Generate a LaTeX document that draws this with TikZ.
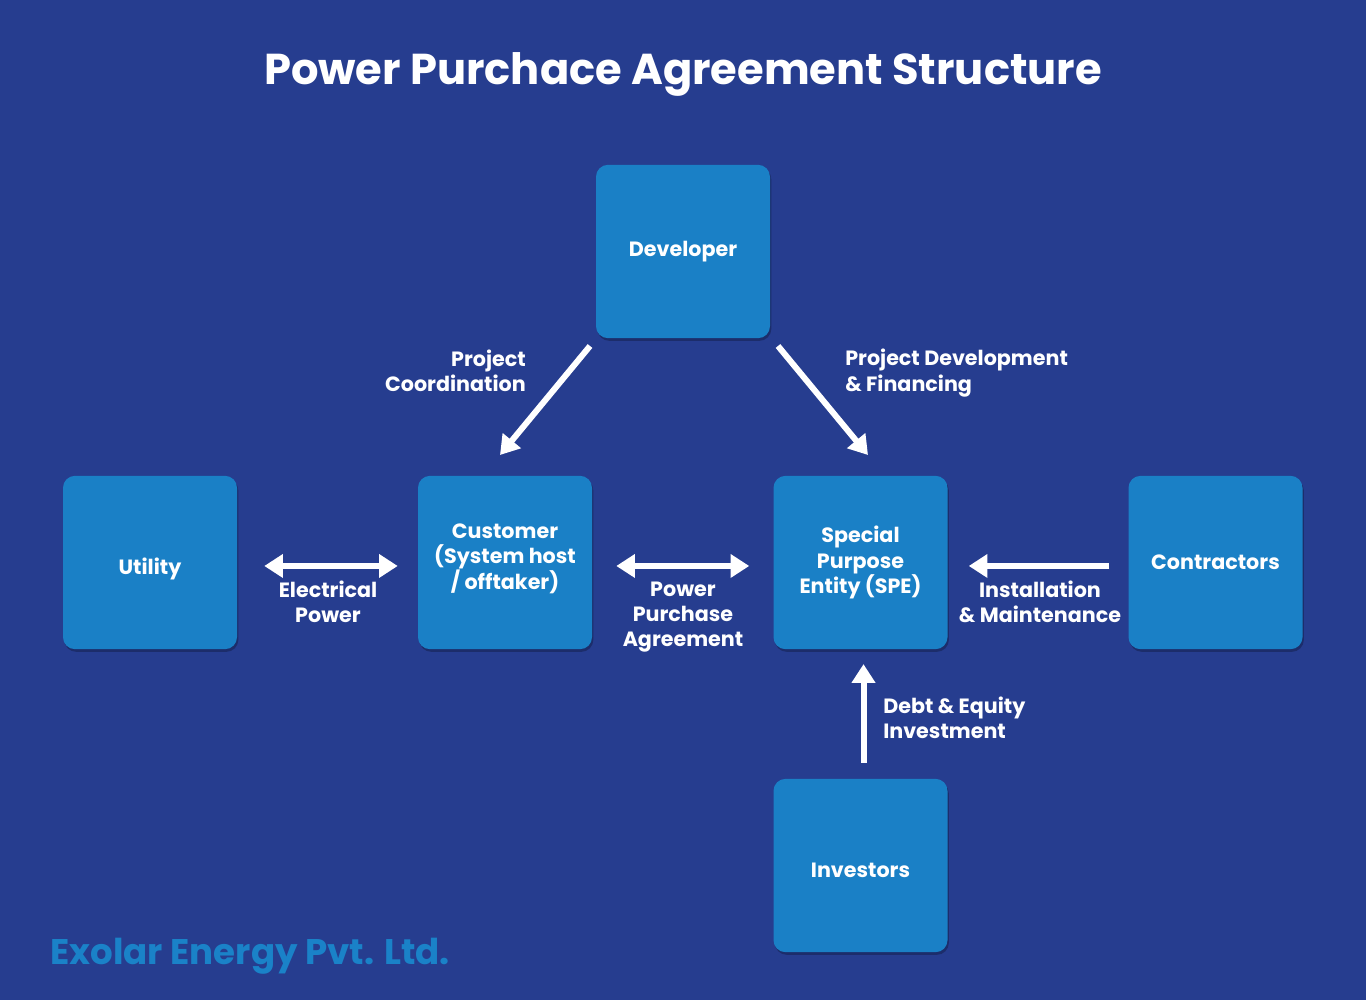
\documentclass[tikz,border=0pt]{standalone}
\usepackage{fontspec}
\setmainfont{Poppins}
\usetikzlibrary{arrows.meta,shadows}
\definecolor{bg}{HTML}{263D8F}
\definecolor{boxc}{HTML}{1A80C6}
\definecolor{foot}{HTML}{1A82C8}
\tikzset{
  box/.style={fill=boxc, rounded corners=9pt, minimum width=130.5pt, minimum height=130pt, inner sep=0pt,
    text=white, font=\bfseries\fontsize{15.5}{19}\selectfont, align=center,
    drop shadow={shadow xshift=1pt, shadow yshift=-2pt, fill=black, opacity=0.25}},
  lbl/.style={text=white, font=\bfseries\fontsize{15.5}{19}\selectfont, inner sep=0pt},
  boxtxt/.style={lbl, align=center, label distance=0pt},
  arr/.style={white, line width=4.5pt, -{Triangle[length=14pt, width=17pt]}},
  darr/.style={white, line width=4.5pt, {Triangle[length=14pt, width=17pt]}-{Triangle[length=14pt, width=17pt]}},
}
\begin{document}
\begin{tikzpicture}[x=0.75pt, y=-0.75pt]
\fill[bg] (0,0) rectangle (1366,1000);
\useasboundingbox (0,0) rectangle (1366,1000);
\node[text=white, font=\bfseries\fontsize{32.4}{40}\selectfont] (title) at (683,74) {Power Purchace Agreement Structure};

\node[box] (dev) at (683,251.5) {Developer};
\node[box, label={[boxtxt, yshift=-4.5pt]center:Utility}] (util) at (150,562.5) {};
\node[box, label={[boxtxt, yshift=3pt]center:{Customer\\(System host\\/ offtaker)}}] (cust) at (505,562.5) {};
\node[box] (spe) at (860.5,562.5) {Special\\Purpose\\Entity (SPE)};
\node[box] (cont) at (1215.5,562.5) {Contractors};
\node[box, label={[boxtxt, yshift=-3.7pt]center:Investors}] (inv) at (860.5,865.5) {};

\coordinate (a1s) at (590,346); \coordinate (a1e) at (500,455);
\coordinate (a2s) at (778,346); \coordinate (a2e) at (868,455);
\draw[arr] (a1s) -- (a1e);
\draw[arr] (a2s) -- (a2e);
\draw[darr] ([xshift=20.25pt,yshift=-2.6pt]util.east) -- ([xshift=-15pt,yshift=-2.6pt]cust.west);
\draw[darr] ([xshift=18pt,yshift=-2.6pt]cust.east) -- ([xshift=-18pt,yshift=-2.6pt]spe.west);
\draw[arr] ([xshift=-14.25pt,yshift=-2.6pt]cont.west) -- ([xshift=15.75pt,yshift=-2.6pt]spe.east);
\draw[arr] ([xshift=2.25pt,yshift=12pt]inv.north) -- ([xshift=2.25pt,yshift=-11pt]spe.south);

\node[lbl, align=right, anchor=east] (l1) at (526,371) {Project\\Coordination};
\node[lbl, align=left, anchor=west] (l2) at (845,373) {Project Development\\\& Financing};
\node[lbl, align=center] (l3) at (328,602) {Electrical\\Power};
\node[lbl, align=center] (l4) at (683,617) {Power\\Purchase\\Agreement};
\node[lbl, align=center] (l5) at (1040,602) {Installation\\\& Maintenance};
\node[lbl, align=left, anchor=west] (l6) at (883,718) {Debt \& Equity\\Investment};

\node[text=foot, font=\bfseries\fontsize{26.7}{32}\selectfont, anchor=west, inner sep=0pt] (footer) at (50,956) {Exolar Energy Pvt. Ltd.};
\end{tikzpicture}
\end{document}
